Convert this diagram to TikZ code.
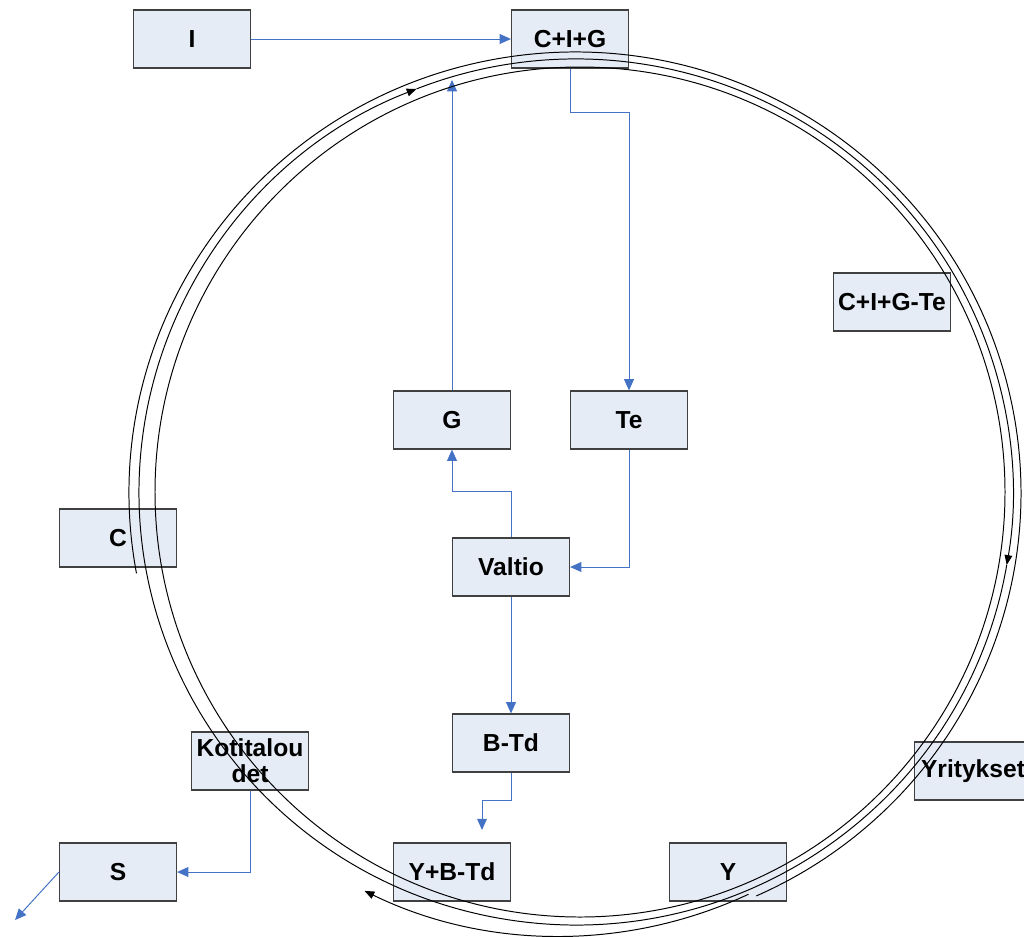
\documentclass[tikz,border=0pt]{standalone}
\usepackage{fontspec}
\setmainfont{Liberation Sans}
\usetikzlibrary{arrows.meta}
\definecolor{boxfill}{RGB}{230,236,246}
\definecolor{flowblue}{RGB}{68,114,196}
\begin{document}
\begin{tikzpicture}[x=0.025cm,y=-0.025cm,
  box/.style={draw=black!75,line width=0.8pt,fill=boxfill,minimum width=2.925cm,
    minimum height=1.45cm,inner sep=0pt,align=center,
    font=\fontsize{17.5}{18.5}\selectfont\bfseries},
  flow/.style={flowblue,line width=0.7pt,-{Triangle[length=8pt,width=7pt]}},
  ring/.style={black,line width=0.7pt},
  ringarr/.style={ring,-{Triangle[length=7pt,width=5.5pt]}}]
\useasboundingbox (0,0) rectangle (1024,936);
% boxes
\node[box] (I) at (192,39) {I};
\node[box] (CIG) at (570,39) {C+I+G};
\node[box] (CIGTe) at (892,302) {C+I+G-Te};
\node[box] (G) at (452,420) {G};
\node[box] (Te) at (629,420) {Te};
\node[box] (C) at (118,538) {C};
\node[box] (Valtio) at (511,567) {Valtio};
\node[box] (BTd) at (511,743) {B-Td};
\node[box] (Koti) at (250,761) {Kotitalou\\det};
\node[box] (Yri) at (973,771) {Yritykset};
\node[box] (S) at (118,872) {S};
\node[box] (YBTd) at (452,872) {Y+B-Td};
\node[box] (Y) at (728,872) {Y};
% free ends
\coordinate (gtop) at (452,80);
\coordinate (ybt) at (482,830);
\coordinate (sout) at (15,920);
% blue flows
\draw[flow] (I) -- (CIG);
\draw[flow] (CIG.south) -- ++(0,44) -| (Te.north);
\draw[flow] (G.north) -- (gtop);
\draw[flow] (Valtio.north) -- ++(0,-46) -| (G.south);
\draw[flow] (Te.south) |- (Valtio.east);
\draw[flow] (Valtio) -- (BTd);
\draw[flow] (BTd.south) -- ++(0,28) -| (ybt);
\draw[flow] (Koti.south) |- (S.east);
\draw[flow] (S.west) -- (sout);
% circular flow
\coordinate (inn) at (580,492);
\coordinate (mid) at (576,492);
\coordinate (out) at (575,493);
\coordinate (bot) at (560,490);
\draw[ring] (inn) circle[radius=425];
\draw[ringarr] (mid) ++(9.7:437 and 433) arc[start angle=9.7, end angle=248.6, x radius=437, y radius=433];
\draw[ringarr] (mid) ++(248.6:437 and 433) arc[start angle=248.6, end angle=369.7, x radius=437, y radius=433];
\draw[ring] (out) ++(169.5:446 and 441) arc[start angle=169.5, end angle=426, x radius=446, y radius=441];
\draw[ringarr] (bot) ++(65:446) arc[start angle=65, end angle=116, radius=446];
\end{tikzpicture}
\end{document}
